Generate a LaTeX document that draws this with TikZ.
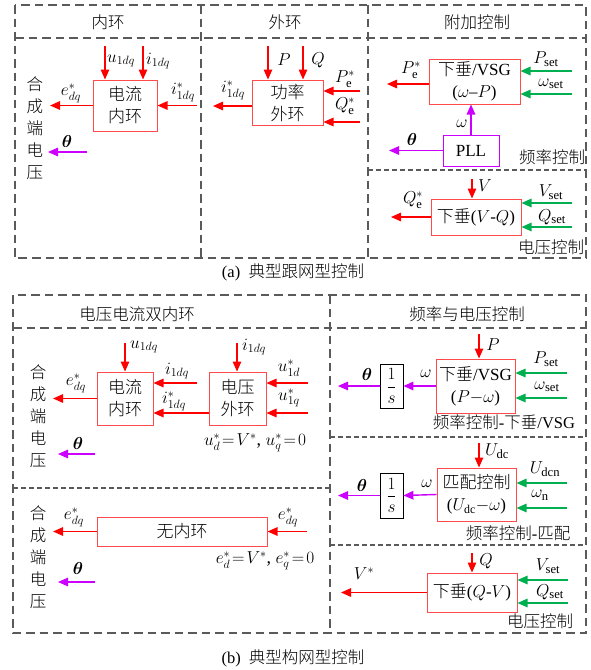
\documentclass[tikz,border=0pt]{standalone}
\usepackage{amsmath}
\usepackage{bm}
\usepackage{fontspec}
\setmainfont{Liberation Serif}
\newfontfamily\cjk{Noto Sans CJK SC Light}
\newcommand\zh[1]{{\cjk #1}}
\usetikzlibrary{arrows.meta}
\definecolor{dgray}{HTML}{5A5A5A}
\definecolor{bred}{HTML}{FF4B4B}
\definecolor{ared}{HTML}{FF0000}
\definecolor{ggreen}{HTML}{00B050}
\definecolor{mag}{HTML}{CC00FF}
\begin{document}
\begin{tikzpicture}[x=1pt,y=-1pt,
  every node/.style={font=\fontsize{16.5}{19}\selectfont, inner sep=0pt},
  frame/.style={draw=dgray, line width=2.3pt, dash pattern=on 8.5pt off 5pt},
  thinframe/.style={draw=dgray, line width=1.3pt, dash pattern=on 5pt off 3pt},
  blk/.style={draw=bred, line width=1pt, fill=white, align=center, font=\fontsize{17}{22}\selectfont},
  mblk/.style={draw=mag, line width=1pt, fill=white, align=center, font=\fontsize{17}{22}\selectfont},
  kblk/.style={draw=black, line width=0.8pt, fill=white, align=center, font=\fontsize{18}{22}\selectfont},
  vtxt/.style={align=center, font=\cjk\fontsize{16.5}{22}\selectfont},
  lbl/.style={font=\fontsize{18}{21}\selectfont},
  rarr/.style={draw=ared, line width=1.4pt, -{Triangle[length=10pt,width=8.5pt]}},
  garr/.style={draw=ggreen, line width=1.4pt, -{Triangle[length=10pt,width=8.5pt]}},
  marr/.style={draw=mag, line width=1.4pt, -{Triangle[length=10pt,width=8.5pt]}}
]
\useasboundingbox (0,0) rectangle (591,670);
\fill[white] (0,0) rectangle (591,670);

%================ TOP PANEL =================
\draw[frame] (15,5) rectangle (586,258);
\draw[frame] (15,38) -- (586,38);
\draw[frame] (201,5) -- (201,258);
\draw[frame] (368,5) -- (368,258);
\draw[thinframe] (368,170) -- (586,170);

\node (h1) at (108,22) {\zh{内环}};
\node (h2) at (285,22) {\zh{外环}};
\node (h3) at (477,22) {\zh{附加控制}};

% inner loop
\node[blk, minimum width=64pt, minimum height=51pt] (ci) at (125,105.5) {\zh{电流}\\\zh{内环}};
\coordinate (u1) at (105,46);
\coordinate (i1) at (143,46);
\draw[rarr] (u1) -- (u1 |- ci.north);
\draw[rarr] (i1) -- (i1 |- ci.north);
\node[lbl, anchor=west] (lu1) at (107,61) {$u_{1dq}$};
\node[lbl, anchor=west] (li1) at (146,61) {$i_{1dq}$};
\coordinate (ir) at (197,105.5);
\draw[rarr] (ir) -- (ci.east);
\node[lbl] (lir) at (183,92) {$i^{*}_{1dq}$};
\coordinate (eo) at (50,105.5);
\draw[rarr] (ci.west) -- (eo);
\node[lbl] (leo) at (71,93) {$e^{*}_{dq}$};
\node[vtxt] (v1) at (35,128.5) {合\\成\\端\\电\\压};
\coordinate (ta) at (87,152);
\coordinate (tb) at (48,152);
\draw[marr] (ta) -- (tb);
\node[lbl] (lt1) at (67,141) {$\bm{\theta}$};

% outer loop
\node[blk, minimum width=71pt, minimum height=45pt] (po) at (287.5,102.5) {\zh{功率}\\\zh{外环}};
\coordinate (pp) at (268,46);
\coordinate (qq) at (303,46);
\draw[rarr] (pp) -- (pp |- po.north);
\draw[rarr] (qq) -- (qq |- po.north);
\node[lbl] (lpp) at (284,60) {$P$};
\node[lbl] (lqq) at (318,60) {$Q$};
\coordinate (pe) at (360,91);
\coordinate (qe) at (360,122);
\draw[rarr] (pe) -- (pe -| po.east);
\draw[rarr] (qe) -- (qe -| po.east);
\node[lbl] (lpe) at (345,79) {$P^{*}_{\mathrm{e}}$};
\node[lbl] (lqe) at (345,106) {$Q^{*}_{\mathrm{e}}$};
\coordinate (io) at (213,106);
\draw[rarr] (io -| po.west) -- (io);
\node[lbl] (lio) at (233,90) {$i^{*}_{1dq}$};

% additional control
\node[blk, minimum width=91pt, minimum height=45pt] (vsg) at (474.5,81.5) {\zh{下垂}/VSG\\($\omega$–$P$)};
\coordinate (ps) at (572,71);
\coordinate (ws) at (572,94);
\draw[garr] (ps) -- (ps -| vsg.east);
\draw[garr] (ws) -- (ws -| vsg.east);
\node[lbl] (lps) at (546,59) {$P_{\mathrm{set}}$};
\node[lbl] (lws) at (551,84) {$\omega_{\mathrm{set}}$};
\coordinate (pe2) at (387,84);
\draw[rarr] (pe2 -| vsg.west) -- (pe2);
\node[lbl] (lpe2) at (411,70) {$P^{*}_{\mathrm{e}}$};
\node[mblk, minimum width=56pt, minimum height=31pt] (pll) at (471,150.5) {PLL};
\draw[marr] (pll.north) -- (pll.north |- vsg.south);
\node[lbl] (lw1) at (462,124) {$\omega$};
\coordinate (th2) at (389,150.5);
\draw[marr] (pll.west) -- (th2);
\node[lbl] (lt2) at (412,139) {$\bm{\theta}$};
\node (c1) at (552,157) {\zh{频率控制}};

% voltage control
\node[blk, minimum width=90pt, minimum height=36pt] (vq) at (476,217) {\zh{下垂}($V$-$Q$)};
\coordinate (vv) at (472,179);
\draw[rarr] (vv) -- (vv |- vq.north);
\node[lbl] (lvv) at (485,186) {$V$};
\coordinate (vs) at (572,203);
\coordinate (qs) at (572,227);
\draw[garr] (vs) -- (vs -| vq.east);
\draw[garr] (qs) -- (qs -| vq.east);
\node[lbl] (lvs) at (551,192) {$V_{\mathrm{set}}$};
\node[lbl] (lqs) at (552,217) {$Q_{\mathrm{set}}$};
\coordinate (qe2) at (391,217);
\draw[rarr] (vq.west) -- (qe2);
\node[lbl] (lqe2) at (413,200) {$Q^{*}_{\mathrm{e}}$};
\node (c2) at (551,247) {\zh{电压控制}};

\node (capa) at (293,272) {(a)\ \ \zh{典型跟网型控制}};

%================ BOTTOM PANEL =================
\draw[frame] (13,295) rectangle (586,633);
\draw[frame] (13,328) -- (586,328);
\draw[frame] (330,295) -- (330,633);
\draw[thinframe] (13,488) -- (330,488);
\draw[thinframe] (330,437) -- (586,437);
\draw[thinframe] (330,545) -- (586,545);

\node (h4) at (137,314) {\zh{电压电流双内环}};
\node (h5) at (467,314) {\zh{频率与电压控制}};

% dual loop
\node[blk, minimum width=56pt, minimum height=53pt] (ci2) at (125,398.5) {\zh{电流}\\\zh{内环}};
\node[blk, minimum width=57pt, minimum height=53pt] (vo) at (237.5,398.5) {\zh{电压}\\\zh{外环}};
\coordinate (ut) at (125,343);
\draw[rarr] (ut) -- (ci2.north);
\node[lbl, anchor=west] (lut) at (130,347) {$u_{1dq}$};
\coordinate (il) at (197,383);
\draw[rarr] (il) -- (il -| ci2.east);
\node[lbl] (lil) at (177,371) {$i_{1dq}$};
\draw[rarr] ([yshift=-14.5pt]vo.west) -- ([yshift=-14.5pt]ci2.east);
\node[lbl] (lilr) at (174,401) {$i^{*}_{1dq}$};
\coordinate (it) at (237,343);
\draw[rarr] (it) -- (it |- vo.north);
\node[lbl, anchor=west] (lit) at (242,347) {$i_{1dq}$};
\coordinate (ud) at (308,383);
\coordinate (uq) at (308,413);
\draw[rarr] (ud) -- (ud -| vo.east);
\draw[rarr] (uq) -- (uq -| vo.east);
\node[lbl] (lud) at (289,368) {$u^{*}_{1d}$};
\node[lbl] (luq) at (289,398) {$u^{*}_{1q}$};
\node[lbl] (eqa) at (255,443) {$u^{*}_{d}\!=\!V^{*}$, $u^{*}_{q}\!=\!0$};
\coordinate (eo2) at (53,398.5);
\draw[rarr] (ci2.west) -- (eo2);
\node[lbl] (leo2) at (76,383) {$e^{*}_{dq}$};
\node[vtxt] (v2) at (38,416) {合\\成\\端\\电\\压};
\coordinate (tc) at (95,454);
\coordinate (td) at (58,454);
\draw[marr] (tc) -- (td);
\node[lbl] (lt3) at (78,443) {$\bm{\theta}$};

% no inner loop
\node[blk, minimum width=170pt, minimum height=29pt] (ni) at (182,531.5) {\zh{无内环}};
\coordinate (ein) at (307,531.5);
\draw[rarr] (ein) -- (ni.east);
\node[lbl] (lein) at (288,517) {$e^{*}_{dq}$};
\coordinate (eo3) at (53,531.5);
\draw[rarr] (ni.west) -- (eo3);
\node[lbl] (leo3) at (74,517) {$e^{*}_{dq}$};
\node[lbl] (eqb) at (265,561) {$e^{*}_{d}\!=\!V^{*}$, $e^{*}_{q}\!=\!0$};
\node[vtxt] (v3) at (38,557.5) {合\\成\\端\\电\\压};
\coordinate (te) at (95,582);
\coordinate (tf) at (58,582);
\draw[marr] (te) -- (tf);
\node[lbl] (lt4) at (78,568) {$\bm{\theta}$};

% VSG
\node[blk, minimum width=79pt, minimum height=54pt] (vsg2) at (475.5,386) {\zh{下垂}/VSG\\($P$$-$$\omega$)};
\coordinate (p2) at (479,334);
\draw[rarr] (p2) -- (p2 |- vsg2.north);
\node[lbl] (lp2) at (493,345) {$P$};
\coordinate (ps2) at (567,373);
\coordinate (ws2) at (567,398);
\draw[garr] (ps2) -- (ps2 -| vsg2.east);
\draw[garr] (ws2) -- (ws2 -| vsg2.east);
\node[lbl] (lps2) at (546,359) {$P_{\mathrm{set}}$};
\node[lbl] (lws2) at (547,387) {$\omega_{\mathrm{set}}$};
\node[kblk, minimum width=23pt, minimum height=44pt] (s1) at (391.5,386) {$\displaystyle\frac{1}{s}$};
\draw[marr] (vsg2.west) -- (s1.east);
\node[lbl] (lw2) at (426,374) {$\omega$};
\coordinate (th3) at (338,386);
\draw[marr] (s1.west) -- (th3);
\node[lbl] (lt5) at (367,374) {$\bm{\theta}$};
\node (c3) at (504,422) {\zh{频率控制}-\zh{下垂}/VSG};

% matching control
\node[blk, minimum width=79pt, minimum height=53pt] (mp) at (476.5,494.5) {\zh{匹配控制}\\($U_{\mathrm{dc}}$$-$$\omega$)};
\coordinate (ud2) at (479,443);
\draw[rarr] (ud2) -- (ud2 |- mp.north);
\node[lbl] (lud2) at (497,451) {$U_{\mathrm{dc}}$};
\coordinate (udn) at (567,483);
\coordinate (wn) at (567,508);
\draw[garr] (udn) -- (udn -| mp.east);
\draw[garr] (wn) -- (wn -| mp.east);
\node[lbl] (ludn) at (545,469) {$U_{\mathrm{dcn}}$};
\node[lbl] (lwn) at (540,495) {$\omega_{\mathrm{n}}$};
\node[kblk, minimum width=23pt, minimum height=45pt] (s2) at (391.5,495.5) {$\displaystyle\frac{1}{s}$};
\draw[marr] (mp.west) -- (s2.east);
\node[lbl] (lw3) at (427,484) {$\omega$};
\coordinate (th4) at (338,495.5);
\draw[marr] (s2.west) -- (th4);
\node[lbl] (lt6) at (362,485) {$\bm{\theta}$};
\node (c4) at (518,533) {\zh{频率控制}-\zh{匹配}};

% voltage control (Q-V)
\node[blk, minimum width=90pt, minimum height=39pt] (qv) at (472,592.5) {\zh{下垂}($Q$-$V$)};
\coordinate (qq2) at (472,553);
\draw[rarr] (qq2) -- (qv.north);
\node[lbl] (lqq2) at (486,561) {$Q$};
\coordinate (vs2) at (568,580);
\coordinate (qs2) at (568,603);
\draw[garr] (vs2) -- (vs2 -| qv.east);
\draw[garr] (qs2) -- (qs2 -| qv.east);
\node[lbl] (lvs2) at (548,566) {$V_{\mathrm{set}}$};
\node[lbl] (lqs2) at (550,592) {$Q_{\mathrm{set}}$};
\coordinate (vst) at (341,592.5);
\draw[rarr] (qv.west) -- (vst);
\node[lbl] (lvst) at (364,574) {$V^{*}$};
\node (c5) at (540,621) {\zh{电压控制}};

\node (capb) at (293,658) {(b)\ \ \zh{典型构网型控制}};
\end{tikzpicture}
\end{document}
